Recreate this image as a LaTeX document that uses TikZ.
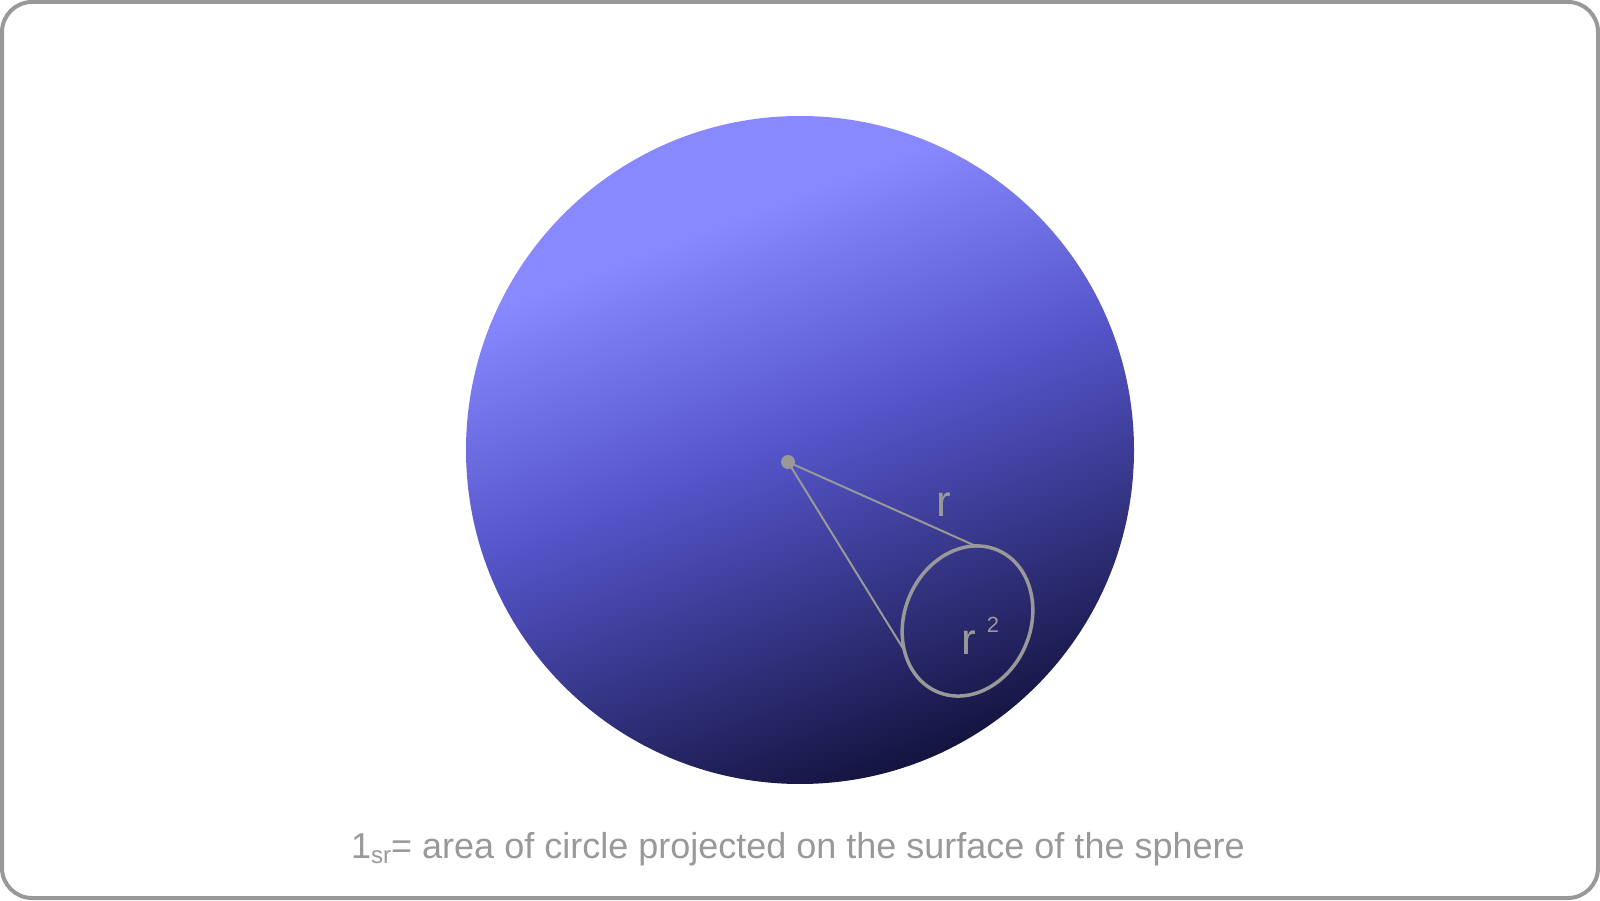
\documentclass[tikz,border=0pt]{standalone}
\usepackage{fontspec}
\setmainfont{Liberation Sans}
\definecolor{lgray}{HTML}{999999}
\definecolor{sphlight}{HTML}{8888FF}
\definecolor{sphmid}{HTML}{5353C6}
\definecolor{sphdark}{HTML}{141440}
\pgfdeclareverticalshading{sphereshade}{100bp}{color(0bp)=(sphdark); color(25bp)=(sphdark); color(50bp)=(sphmid); color(68bp)=(sphlight); color(100bp)=(sphlight)}
\begin{document}
\begin{tikzpicture}[x=1pt,y=1pt,
  lbl/.style={text=lgray, inner sep=0pt, font=\fontsize{44}{50}\selectfont},
  guide/.style={draw=lgray, line width=2pt},
  frame/.style={draw=lgray, line width=4pt, rounded corners=30pt},
  patch/.style={draw=lgray, line width=3.5pt},
  dotstyle/.style={circle, fill=lgray, minimum size=14pt, inner sep=0pt}]
\useasboundingbox (0,0) rectangle (1600,900);
\draw[frame] (2,2) rectangle (1598,898);
\shade[shading=sphereshade, shading angle=21] (800,450) circle[radius=334pt];
\draw[patch, rotate around={-23:(967.5,279)}] (967.5,279) ellipse[x radius=63pt, y radius=77pt];
\coordinate (o) at (788,438);
\coordinate (tanA) at (978,353);
\coordinate (tanB) at (904,250);
\draw[guide] (o) -- (tanA);
\draw[guide] (o) -- (tanB);
\node[dotstyle] (dot) at (o) {};
\node[lbl, anchor=base west] (rlab) at (936,383) {r};
\node[lbl, anchor=base west] (rsq) at (961,246) {r\hspace{11pt}\raisebox{21pt}{\fontsize{22}{26}\selectfont 2}};
\node[text=lgray, inner sep=0pt, anchor=base west, font=\fontsize{36}{42}\selectfont] (caption) at (351,42) {1\raisebox{-5pt}{\fontsize{24}{28}\selectfont sr}= area of circle projected on the surface of the sphere};
\end{tikzpicture}
\end{document}
